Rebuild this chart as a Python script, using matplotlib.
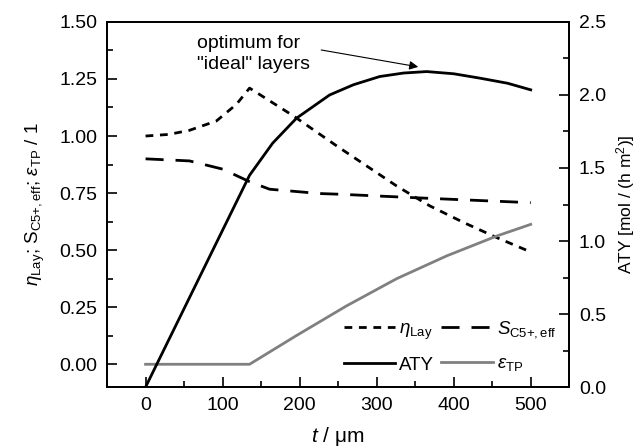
import matplotlib
matplotlib.use("Agg")
import matplotlib.pyplot as plt
from matplotlib.ticker import MultipleLocator, FormatStrFormatter

plt.rcParams['font.family'] = ['Liberation Sans', 'DejaVu Sans']
plt.rcParams['mathtext.fontset'] = 'custom'
plt.rcParams['mathtext.rm'] = 'Liberation Sans'
plt.rcParams['mathtext.it'] = 'Liberation Sans:italic'
plt.rcParams['mathtext.bf'] = 'Liberation Sans:bold'

# data
t_eta = [0, 30, 57, 92, 118, 135, 192, 248, 326, 369, 413, 456, 500]
eta_lay = [1.00, 1.007, 1.025, 1.066, 1.139, 1.21, 1.088, 0.957, 0.781, 0.694, 0.621, 0.555, 0.492]

t_s = [0, 57, 100, 135, 161, 226, 252, 348, 430, 500]
s_c5 = [0.90, 0.891, 0.855, 0.80, 0.767, 0.748, 0.745, 0.730, 0.718, 0.708]

t_aty = [0, 135, 165, 196, 239, 270, 304, 335, 365, 400, 434, 470, 500]
aty = [0, 1.45, 1.67, 1.841, 2.0, 2.07, 2.126, 2.15, 2.16, 2.145, 2.115, 2.08, 2.035]

t_eps = [0, 135, 195, 261, 326, 391, 456, 500]
eps_tp = [0, 0, 0.124, 0.256, 0.375, 0.475, 0.562, 0.613]

fig = plt.figure(figsize=(6.41, 4.47), dpi=100)
ax = fig.add_axes([0.167, 0.134, 0.721, 0.817])
ax2 = ax.twinx()

lw = 2.0
l_eta, = ax.plot(t_eta, eta_lay, color='black', lw=lw, dashes=(2.8, 2.4),
                 label=r'$\eta_{\mathrm{Lay}}$')
l_s, = ax.plot(t_s, s_c5, color='black', lw=lw, dashes=(6.5, 4.3),
               label=r'$S_{\mathrm{C5{+},eff}}$')
l_eps, = ax.plot(t_eps, eps_tp, color='#808080', lw=lw,
                 label=r'$\varepsilon_{\mathrm{TP}}$')
l_aty, = ax2.plot(t_aty, aty, color='black', lw=lw, label='ATY')

ax.set_xlim(-50, 550)
ax.set_ylim(-0.1, 1.5)
ax2.set_ylim(0, 2.5)

ax.xaxis.set_major_locator(MultipleLocator(100))
ax.xaxis.set_minor_locator(MultipleLocator(50))
ax.yaxis.set_major_locator(MultipleLocator(0.25))
ax.yaxis.set_minor_locator(MultipleLocator(0.125))
ax.yaxis.set_major_formatter(FormatStrFormatter('%.2f'))
ax2.yaxis.set_major_locator(MultipleLocator(0.5))
ax2.yaxis.set_minor_locator(MultipleLocator(0.25))
ax2.yaxis.set_major_formatter(FormatStrFormatter('%.1f'))

for a in (ax, ax2):
    for s in a.spines.values():
        s.set_linewidth(1.3)
ax.tick_params(axis='both', which='major', direction='in', length=7, width=1.2,
               labelsize=14, top=False, right=False, pad=7)
ax.tick_params(axis='both', which='minor', direction='in', length=4, width=1.2,
               top=False, right=False)
ax2.tick_params(axis='y', which='major', direction='in', length=7, width=1.2,
                labelsize=14, pad=7)
ax2.tick_params(axis='y', which='minor', direction='in', length=4, width=1.2)

ax.set_xlabel(r'$t$ / $\mathrm{\mu}$m', fontsize=15, labelpad=8)
ax.set_ylabel(r'$\eta_{\mathrm{Lay}}$; S$_{\mathrm{C5{+},eff}}$; $\varepsilon_{\mathrm{TP}}$ / 1',
              fontsize=13.5, labelpad=9)
ax2.set_ylabel(r'ATY [mol / (h m$^2$)]', fontsize=12.5, labelpad=6)

ax.text(67, 1.361, 'optimum for\n"ideal" layers', ha='left', va='center',
        fontsize=14, linespacing=1.3)
ax.annotate('', xy=(354, 1.303), xytext=(228, 1.377),
            arrowprops=dict(arrowstyle='-|>', color='black', lw=0.8,
                            shrinkA=0, shrinkB=0, mutation_scale=13))

leg = ax2.legend(handles=[l_eta, l_aty, l_s, l_eps], ncol=2, frameon=False,
                 loc='lower right', bbox_to_anchor=(1.0, 0.0), fontsize=13.5,
                 handlelength=2.75, handletextpad=0.2, columnspacing=0.4,
                 labelspacing=0.8, borderaxespad=0.3)

fig.savefig('out.png', dpi=100)
